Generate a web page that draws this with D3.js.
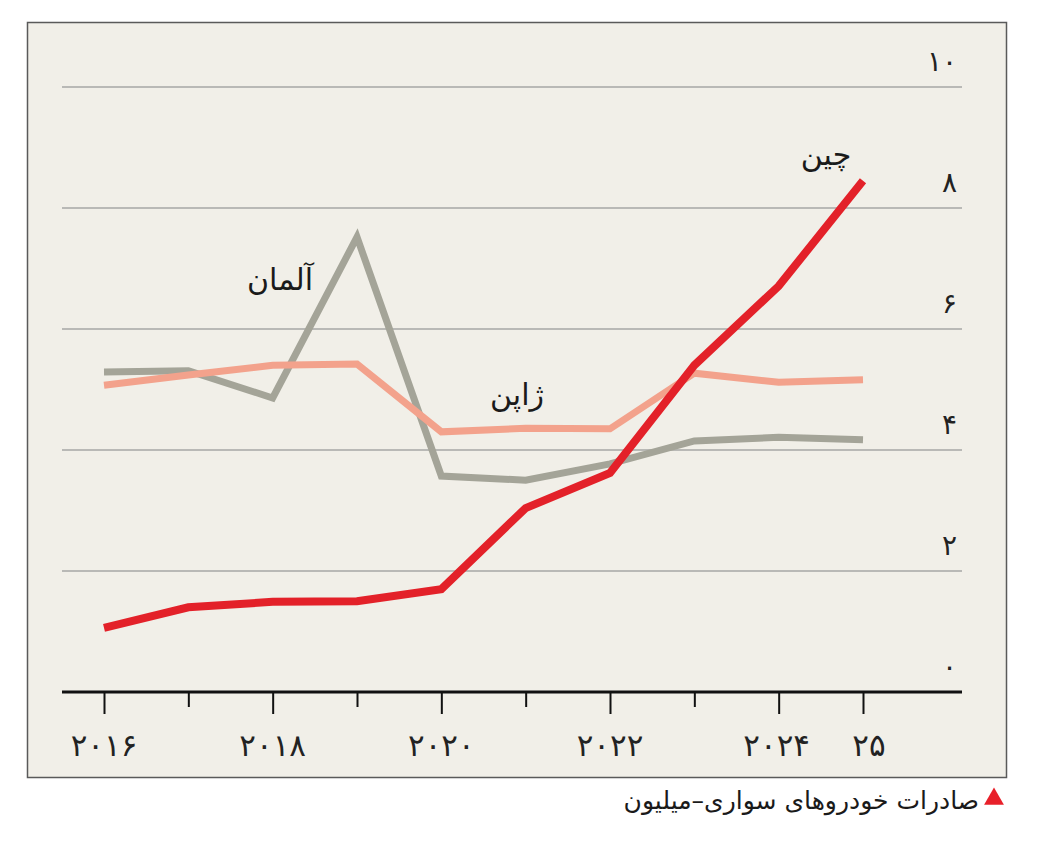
<!DOCTYPE html>
<html>
<head>
<meta charset="utf-8">
<script src="https://cdn.jsdelivr.net/npm/d3@7"></script>
<style>
  body { margin: 0; background: #fff; }
  #graph-container { width: 1041px; height: 843px; }
</style>
</head>
<body>
<div id="graph-container"></div>
<script>
const years = [2016, 2017, 2018, 2019, 2020, 2021, 2022, 2023, 2024, 2025];
const china = [1.06, 1.40, 1.49, 1.50, 1.70, 3.04, 3.62, 5.40, 6.71, 8.45];
const germany = [5.29, 5.31, 4.86, 7.52, 3.57, 3.50, 3.77, 4.15, 4.21, 4.17];
const japan = [5.07, 5.24, 5.40, 5.42, 4.30, 4.36, 4.35, 5.27, 5.12, 5.16];
const yTicks = [0, 2, 4, 6, 8, 10];
const yTickLabels = ['۰', '۲', '۴', '۶', '۸', '۱۰'];
const xTickLabels = {2016: '۲۰۱۶', 2018: '۲۰۱۸', 2020: '۲۰۲۰', 2022: '۲۰۲۲', 2024: '۲۰۲۴', 2025: '۲۵'};
const seriesNames = ['چین', 'آلمان', 'ژاپن'];
const caption = 'صادرات خودروهای سواری–میلیون';

const width = 1041;
const height = 843;
const svg = d3.select('#graph-container')
  .append('svg')
  .attr('width', width)
  .attr('height', height);

// Frame
svg.append('rect')
  .attr('x', 27.5).attr('y', 22.5)
  .attr('width', 979).attr('height', 755)
  .attr('fill', '#f1efe8')
  .attr('stroke', '#5a5a5a')
  .attr('stroke-width', 1.5);

const xScale = d3.scaleLinear()
  .domain([2016, 2025])
  .range([104, 863]);

const yScale = d3.scaleLinear()
  .domain([0, 10])
  .range([692, 87]);

// Grid lines
svg.append('g')
  .selectAll('line')
  .data(yTicks.filter(d => d > 0))
  .join('line')
  .attr('x1', 62).attr('x2', 962)
  .attr('y1', d => yScale(d)).attr('y2', d => yScale(d))
  .attr('stroke', '#b9b9b6')
  .attr('stroke-width', 2);

// Y labels
svg.append('g')
  .selectAll('text')
  .data(yTicks)
  .join('text')
  .attr('x', 957)
  .attr('y', d => yScale(d) - 16)
  .attr('text-anchor', 'end')
  .attr('font-family', 'DejaVu Sans')
  .attr('font-size', 28)
  .attr('fill', '#222')
  .text((d, i) => yTickLabels[i]);

// X axis
const xAxis = d3.axisBottom(xScale)
  .tickValues(years)
  .tickSizeInner(0)
  .tickSizeOuter(0)
  .tickFormat('');

const ax = svg.append('g')
  .attr('transform', `translate(0,${yScale(0)})`)
  .call(xAxis);
ax.select('.domain').remove();

ax.append('line')
  .attr('x1', 62).attr('x2', 962)
  .attr('stroke', '#111')
  .attr('stroke-width', 3);

ax.selectAll('.tick line')
  .attr('y2', d => (d % 2 === 0 || d === 2025) ? 22 : 15)
  .attr('stroke', '#111')
  .attr('stroke-width', 2);

svg.append('g')
  .selectAll('text')
  .data(years.filter(d => xTickLabels[d]))
  .join('text')
  .attr('x', d => xScale(d))
  .attr('y', 756)
  .attr('text-anchor', 'middle')
  .attr('dx', d => d === 2025 ? 6 : (d === 2024 ? -2 : 0))
  .attr('font-family', 'DejaVu Sans')
  .attr('font-size', 31)
  .attr('letter-spacing', 8)
  .attr('fill', '#222')
  .text(d => xTickLabels[d]);

// Lines
const line = d3.line()
  .x((d, i) => xScale(years[i]))
  .y(d => yScale(d));

const series = [
  {values: germany, color: '#a4a498', w: 7},
  {values: japan, color: '#f3a28c', w: 7},
  {values: china, color: '#e32129', w: 8},
];

svg.append('g')
  .selectAll('path')
  .data(series)
  .join('path')
  .attr('d', d => line(d.values))
  .attr('fill', 'none')
  .attr('stroke', d => d.color)
  .attr('stroke-width', d => d.w)
  .attr('stroke-linejoin', 'miter');

// Series labels
const labels = [
  {text: seriesNames[0], x: 826, y: 165},
  {text: seriesNames[1], x: 280, y: 290},
  {text: seriesNames[2], x: 517, y: 405},
];
svg.append('g')
  .selectAll('text')
  .data(labels)
  .join('text')
  .attr('x', d => d.x)
  .attr('y', d => d.y)
  .attr('text-anchor', 'middle')
  .attr('font-family', 'DejaVu Sans')
  .attr('font-size', 30)
  .attr('fill', '#1a1a1a')
  .text(d => d.text);

// Caption
svg.append('path')
  .attr('d', d3.symbol().type(d3.symbolTriangle).size(170)())
  .attr('transform', 'translate(994,799)')
  .attr('fill', '#e8202a');

svg.append('text')
  .attr('x', 979)
  .attr('y', 809)
  .attr('text-anchor', 'end')
  .attr('font-family', 'DejaVu Sans')
  .attr('font-size', 25)
  .attr('font-weight', 500)
  .attr('fill', '#1a1a1a')
  .text(caption);
</script>
</body>
</html>
